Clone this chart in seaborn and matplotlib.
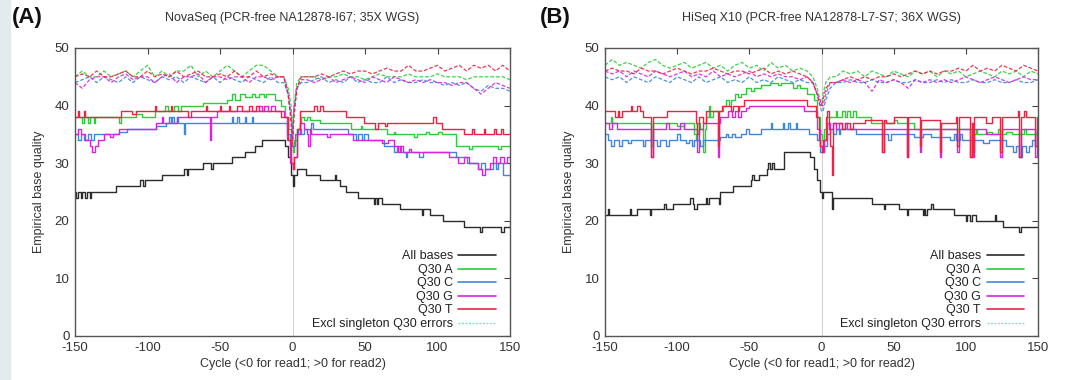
import matplotlib
matplotlib.use("Agg")
import matplotlib.pyplot as plt
from matplotlib.lines import Line2D
from matplotlib.patches import Rectangle
import seaborn as sns

# ---- panel titles / labels -------------------------------------------------
PANEL_TAGS = ["(A)", "(B)"]
PANEL_TITLES = ["NovaSeq (PCR-free NA12878-I67; 35X WGS)",
                "HiSeq X10 (PCR-free NA12878-L7-S7; 36X WGS)"]
X_LABEL = "Cycle (<0 for read1; >0 for read2)"
Y_LABEL = "Empirical base quality"
X_TICKS = [-150, -100, -50, 0, 50, 100, 150]
Y_TICKS = [0, 10, 20, 30, 40, 50]
LEGEND_LABELS = ["All bases", "Q30 A", "Q30 C", "Q30 G", "Q30 T", "Excl singleton Q30 errors"]

# ---- panel A solid series: (cycle, quality) step breakpoints ---------------
BLACK_A = [(-150, 25), (-149, 24), (-148, 25), (-146, 24), (-145, 25), (-143, 24), (-142, 25), (-140, 24),
           (-139, 25), (-122, 26), (-105, 27), (-103, 26), (-102, 27), (-90, 28), (-75, 29), (-73, 28),
           (-72, 29), (-62, 30), (-56, 29), (-55, 30), (-42, 31), (-33, 32), (-26, 33), (-21, 34), (-5, 33),
           (-3, 31), (-1, 28), (0, 26), (1, 28), (3, 29), (9, 28), (19, 27), (29, 28), (30, 27), (33, 26),
           (37, 25), (45, 24), (56, 23), (57, 24), (58, 23), (59, 24), (62, 23), (74, 22), (89, 21), (90, 22),
           (95, 21), (104, 20), (118, 19), (129, 18), (131, 19), (144, 18), (146, 19), (150, 19)]
GREEN_A = [(-150, 38), (-145, 37), (-144, 38), (-141, 37), (-140, 38), (-137, 37), (-136, 38), (-120, 37),
           (-118, 38), (-108, 38.5), (-104, 38), (-95, 39), (-88, 40), (-86, 39), (-82, 40), (-79, 39),
           (-77, 40), (-62, 40.5), (-45, 41), (-42, 42), (-40, 41), (-36, 42), (-33, 41.5), (-28, 42),
           (-26, 41.5), (-23, 42), (-20, 41.5), (-18, 42), (-12, 41), (-8, 40), (-5, 38), (-3, 36), (-1, 33),
           (0, 32), (1, 34), (3, 36), (5, 37), (6, 38), (8, 37.5), (10, 38), (12, 37.5), (19, 37), (40, 36),
           (47, 36.5), (48, 36), (65, 35), (70, 35.5), (71, 35), (84, 34.5), (86, 35), (92, 35.5), (94, 35),
           (100, 35.5), (103, 35), (113, 33), (122, 32.5), (124, 33), (142, 32.5), (144, 33), (150, 33)]
BLUE_A = [(-150, 35), (-148, 34), (-146, 35), (-144, 34), (-141, 35), (-139, 34), (-137, 35), (-120, 35.5),
          (-114, 36), (-94, 36.5), (-87, 37), (-85, 38), (-84, 37), (-83, 38), (-82, 37), (-80, 38), (-79, 37),
          (-75, 35), (-74, 37), (-42, 38), (-41, 37), (-38, 38), (-37, 37), (-33, 38), (-32, 37), (-28, 38),
          (-27, 37), (-6, 37), (-4, 35), (-2, 33), (0, 33), (2, 35), (4, 36), (6, 35), (8, 36), (13, 37),
          (14, 36), (36, 36), (38, 35), (44, 34), (45, 35), (48, 34), (49, 35), (52, 34), (63, 33), (70, 32),
          (72, 33), (75, 32), (78, 31), (79, 32), (87, 31), (90, 32), (113, 31), (120, 30), (128, 29),
          (130, 30), (133, 29), (138, 30), (140, 29), (142, 30), (145, 28), (150, 28)]
MAGENTA_A = [(-150, 35), (-148, 36), (-146, 35), (-143, 34), (-140, 33), (-138, 32), (-136, 33), (-134, 34),
             (-130, 35), (-126, 34.5), (-124, 35), (-120, 36), (-94, 37), (-90, 38), (-89, 37), (-80, 38),
             (-57, 34), (-56, 38), (-52, 39), (-23, 40), (-21, 39), (-20, 40), (-17, 39), (-15, 40), (-12, 39),
             (-6, 38), (-4, 34), (-2, 30), (0, 29), (1, 31), (3, 35), (5, 37), (8, 36), (10, 35), (11, 33),
             (12, 36), (13, 35), (24, 34.5), (26, 35), (42, 34), (62, 33.5), (66, 34), (70, 33), (73, 32),
             (74, 33), (76, 32), (80, 32.5), (82, 32), (108, 31), (114, 30), (118, 31), (122, 30), (128, 29),
             (131, 28), (133, 29), (136, 30), (138, 31), (140, 30), (143, 31), (146, 30), (148, 31), (150, 31)]
RED_A = [(-150, 38), (-148, 39), (-147, 38), (-144, 39), (-143, 38), (-118, 39), (-111, 38.5), (-108, 39),
         (-95, 40), (-94, 39), (-84, 40), (-83, 39), (-72, 38), (-70, 39), (-60, 40), (-59, 39), (-50, 40),
         (-49, 39), (-44, 40), (-43, 39), (-38, 40), (-35, 39), (-30, 40), (-28, 39), (-25, 40), (-23, 39),
         (-8, 38), (-3, 34), (-1, 30), (0, 29), (1, 31), (3, 36), (5, 39), (15, 40), (17, 39), (19, 40),
         (21, 39), (37, 38), (49, 37), (57, 36), (59, 37), (64, 36.5), (65, 37), (97, 38), (99, 37), (103, 36),
         (118, 35), (124, 36), (125, 35), (132, 36), (133, 35), (139, 36), (140, 35), (144, 36), (145, 35),
         (150, 35)]

# ---- panel B solid series --------------------------------------------------
BLACK_B = [(-150, 21), (-148, 22), (-147, 21), (-133, 22), (-132, 21), (-128, 22), (-119, 21), (-118, 22),
           (-109, 23), (-108, 22), (-103, 23), (-91, 24), (-89, 23), (-88, 22), (-86, 23), (-80, 24), (-79, 23),
           (-78, 24), (-71, 23), (-70, 25), (-61, 26), (-49, 27), (-48, 28), (-47, 27), (-43, 28), (-38, 29),
           (-37, 30), (-36, 29), (-34, 30), (-33, 29), (-26, 32), (-8, 31), (-5, 29), (-3, 27), (-1, 25),
           (0, 24), (1, 25), (7, 22), (8, 24), (35, 23), (43, 22), (44, 23), (54, 22), (59, 21), (60, 22),
           (70, 21), (71, 22), (72, 21), (73, 22), (76, 23), (77, 22), (92, 21), (100, 20), (101, 21),
           (103, 20), (104, 21), (107, 20), (120, 21), (121, 20), (126, 19), (137, 18), (138, 19), (150, 19)]
GREEN_B = [(-150, 37), (-146, 38), (-145, 37), (-118, 33), (-117, 37), (-100, 36.5), (-95, 37), (-88, 35),
           (-87, 34), (-86, 37), (-84, 36), (-82, 32), (-81, 36), (-80, 38), (-78, 40), (-77, 38), (-75, 39),
           (-68, 40), (-66, 41), (-64, 40), (-63, 41), (-60, 42), (-58, 41.5), (-56, 42), (-52, 43),
           (-49, 42.5), (-47, 43), (-42, 43.5), (-36, 44), (-30, 43.5), (-28, 44), (-20, 43), (-17, 43.5),
           (-15, 43), (-10, 42), (-5, 41), (-3, 38), (-1, 35), (0, 34), (2, 36), (4, 38), (10, 39), (11, 38),
           (14, 39), (16, 38), (18, 39), (20, 38), (22, 39), (24, 38), (34, 37), (50, 37.5), (52, 37), (64, 36),
           (105, 35), (107, 36), (108, 35), (115, 35.5), (118, 35), (122, 36), (124, 35), (128, 35.5),
           (132, 35), (140, 36), (142, 35), (150, 35)]
BLUE_B = [(-150, 35), (-148, 34), (-146, 33), (-144, 34), (-140, 33), (-138, 34), (-134, 33.5), (-132, 34),
          (-124, 33), (-122, 34), (-114, 33), (-112, 34), (-108, 33), (-106, 34), (-100, 35), (-98, 34),
          (-94, 33.5), (-92, 34), (-90, 33), (-88, 34), (-84, 33), (-82, 34), (-70, 34.5), (-66, 35),
          (-65, 34.5), (-62, 35), (-60, 34.5), (-56, 35), (-52, 36), (-50, 35), (-42, 36), (-35, 37), (-34, 36),
          (-27, 37), (-26, 36), (-23, 37), (-22, 36), (-18, 37), (-17, 36), (-9, 35), (-3, 34), (-1, 32),
          (2, 33), (4, 35), (6, 36), (8, 35), (10, 36), (12, 35), (13, 36), (24, 35), (46, 34), (48, 35),
          (64, 34.5), (70, 35), (76, 34.5), (89, 34), (92, 35), (93, 34), (96, 35), (97, 34), (112, 33.5),
          (116, 34), (128, 33), (133, 32), (135, 33), (137, 31), (139, 33), (142, 32), (144, 33), (146, 34),
          (148, 33), (150, 33)]
MAGENTA_B = [(-150, 37), (-147, 36), (-145, 37), (-142, 36), (-118, 31), (-117, 36), (-108, 37), (-106, 36),
             (-98, 37), (-95, 36), (-86, 32), (-85, 36), (-82, 37), (-72, 31), (-71, 37), (-70, 38), (-65, 39),
             (-62, 38), (-60, 39), (-58, 38), (-56, 39), (-52, 39.5), (-50, 40), (-12, 39), (-3, 36), (-1, 33),
             (0, 32), (2, 34), (4, 37), (6, 36), (8, 37), (10, 36), (12, 37), (14, 36), (16, 37), (18, 36),
             (42, 32), (43, 36), (59, 31), (60, 36), (68, 32), (69, 36), (82, 31), (83, 36), (94, 32), (95, 36),
             (103, 31), (104, 36), (105, 31), (106, 36), (114, 35), (124, 31), (125, 36), (137, 31), (138, 36),
             (148, 31), (149, 36), (150, 36)]
RED_B = [(-150, 39), (-143, 38), (-141, 39), (-140, 38), (-138, 39), (-132, 40), (-131, 39), (-128, 40),
         (-126, 39), (-124, 38), (-118, 31), (-117, 38), (-107, 39), (-87, 37), (-86, 35), (-85, 38), (-82, 37),
         (-80, 39), (-72, 33), (-71, 39), (-69, 40), (-63, 39), (-61, 40), (-58, 39), (-57, 40), (-54, 41),
         (-10, 40), (-4, 38), (-2, 34), (-1, 33), (0, 32), (1, 34), (3, 38), (4, 39), (5, 36), (6, 33),
         (7, 28), (8, 37), (14, 36), (16, 37), (20, 36), (22, 37), (30, 37.5), (42, 32), (43, 37.5), (45, 37),
         (50, 38), (59, 31), (60, 38), (68, 33), (69, 37.5), (82, 32), (83, 37), (93, 38), (94, 33), (95, 38),
         (103, 31), (104, 37), (105, 32), (106, 38), (114, 37), (118, 38), (124, 32), (125, 38), (136, 39),
         (137, 31), (138, 38), (140, 39), (142, 38), (148, 33), (149, 38), (150, 38)]

# ---- "excl singleton" dashed series, sampled on the cycle grid below -------
DASH_X = list(range(-150, -9, 5)) + [-6, -3, -1, 0, 1, 3, 6] + list(range(10, 151, 5))

DASH_GREEN_A = ([45, 46, 45, 45, 46, 45, 45.5, 46, 45, 46, 47, 45, 46, 45, 46, 46, 47, 45, 46, 45, 46, 47, 46, 45,
                 46, 47, 47, 46, 45] + [45, 43, 40, 36, 40, 44, 45] +
                [45, 45, 44.5, 45, 45, 45.5, 45, 45, 44.5, 45, 45.5, 45, 45, 45, 45.5, 45, 45, 45, 45.5, 45, 45,
                 45, 44.5, 45, 45, 45, 45, 45, 44.5])
DASH_BLUE_A = ([44, 44.5, 45, 44, 45, 44.5, 44, 45, 44, 45, 44.5, 44, 45, 44.5, 45, 44, 45, 44.5, 44, 45, 44, 45,
                44.5, 44, 45, 44.5, 44, 45, 44] + [44, 42, 38, 35, 39, 43, 44] +
               [44, 44.5, 45, 44, 44.5, 44, 45, 44, 44.5, 44, 44, 45, 44, 44.5, 44, 44, 44.5, 44, 44, 43.5, 44,
                43.5, 44, 43, 42.5, 43.5, 43, 43, 42.5])
DASH_MAGENTA_A = ([44, 43, 44.5, 45, 45, 44, 45, 45.5, 44.5, 45, 45, 44, 45, 45.5, 44, 45, 45, 45.5, 44, 45, 45,
                   44.5, 45, 45, 44, 45, 45, 44.5, 45] + [45, 42, 38, 34, 39, 43, 44.5] +
                  [44.5, 44, 44.5, 45, 44, 44.5, 45, 44.5, 44, 45, 44.5, 44, 45, 44.5, 44, 44.5, 44, 44.5, 44, 44,
                   43.5, 44, 44, 43, 42, 43, 44, 43.5, 43])
DASH_RED_A = ([45, 45.5, 45, 46, 45, 45, 45.5, 46, 45, 45, 46, 45, 45.5, 45, 46, 45, 45.5, 46, 45, 45, 45.5, 45,
               46, 45, 45, 46, 45, 45.5, 45] + [45, 42, 37, 33, 38, 43, 45] +
              [45, 45, 45.5, 45, 45.5, 46, 45.5, 46, 46, 45.5, 46, 46.5, 46, 46, 47, 46, 46, 46.5, 47, 46, 46.5,
               47, 46, 47, 46.5, 47, 46, 47, 46])

DASH_GREEN_B = ([47, 48, 47, 47.5, 47, 46.5, 47.5, 48, 47, 46.5, 47, 47.5, 46.5, 47, 47.5, 46.5, 47, 46, 47,
                 47.5, 46.5, 47, 46, 47.5, 46.5, 47, 46, 46.5, 46] + [45, 43, 41, 40, 42, 44, 45] +
                [45, 46, 45.5, 46, 45, 46, 45.5, 45, 46, 45.5, 45, 46, 45.5, 46, 45, 46, 45.5, 46, 45, 45.5, 46,
                 45.5, 45, 46, 45.5, 46, 45, 46, 45.5])
DASH_BLUE_B = ([45, 44.5, 45, 44, 45, 44.5, 44, 45, 44.5, 44, 45, 44.5, 44, 45, 44, 44.5, 45, 44, 44.5, 44, 45,
                44, 44.5, 44, 45, 44.5, 44, 44.5, 44] + [44, 42, 40, 39, 39, 41, 43] +
               [44, 44, 44.5, 44, 44, 44.5, 44, 44, 44.5, 44, 44, 44.5, 44, 44, 44.5, 44, 44.5, 44, 44, 44.5, 44,
                44, 44.5, 44, 44, 44.5, 44, 44, 44.5])
DASH_MAGENTA_B = ([46, 45.5, 46, 45, 46, 45.5, 45, 46, 45.5, 45, 45.5, 46, 45, 45.5, 45, 46, 45, 45.5, 45, 45.5,
                   46, 45, 45.5, 45, 45.5, 45, 45, 44.5, 45] + [44, 42, 41, 40, 40, 42, 44] +
                  [44, 44.5, 44, 44.5, 44, 42.5, 44.5, 44, 44.5, 44, 43, 44.5, 44, 44.5, 44, 44.5, 44, 44.5, 45,
                   44.5, 44, 44.5, 45, 44.5, 44, 44.5, 45, 44.5, 44.5])
DASH_RED_B = ([46, 46.5, 46, 46, 45.5, 46.5, 46, 46, 45.5, 46, 46.5, 46, 45.5, 46, 46, 46.5, 46, 45.5, 46, 46,
               45.5, 46, 46.5, 45.5, 46, 45.5, 46, 45.5, 45] + [44, 42, 40, 40, 41, 43, 44] +
              [44, 44.5, 45, 44.5, 45, 44.5, 45, 45, 45.5, 45, 45.5, 46, 45.5, 46, 45.5, 46, 46, 46.5, 46, 47, 46,
               46.5, 46, 47, 46.5, 46, 47, 46.5, 46])

COL_BLACK = "#2b2b2b"
COL_GREEN = "#2ccc3a"
COL_BLUE = "#3f86dc"
COL_MAGENTA = "#dd22dd"
COL_RED = "#ee2244"
COL_EXCL = "#7fe3cc"


def step_line(ax, pts, color, lw=1.0):
    xs = [p[0] for p in pts]
    ys = [p[1] for p in pts]
    sns.lineplot(x=xs, y=ys, ax=ax, color=color, lw=lw, drawstyle="steps-post",
                 estimator=None, sort=False)


def dash_line(ax, ys, color):
    sns.lineplot(x=DASH_X, y=ys, ax=ax, color=color, lw=0.9, linestyle=(0, (3, 1.5)),
                 estimator=None, sort=False, alpha=0.9)


def draw_panel(ax, solids, dashes):
    ax.axvline(0, color="#d0d0d0", lw=0.7, zorder=0)
    colors = [COL_BLACK, COL_GREEN, COL_BLUE, COL_MAGENTA, COL_RED]
    for pts, c in zip(solids, colors):
        step_line(ax, pts, c)
    for ys, c in zip(dashes, [COL_GREEN, COL_BLUE, COL_MAGENTA, COL_RED]):
        dash_line(ax, ys, c)

    ax.set_xlim(-150, 150)
    ax.set_ylim(0, 50)
    ax.set_xticks(X_TICKS)
    ax.set_yticks(Y_TICKS)
    ax.tick_params(direction="in", length=4, width=0.8, top=True, right=True,
                   labelsize=9.5, colors="#444444", labelcolor="#333333", pad=4)
    for s in ax.spines.values():
        s.set_color("#555555")
        s.set_linewidth(1.0)
    ax.set_xlabel(X_LABEL, fontsize=9, color="#333333", labelpad=3)
    ax.set_ylabel(Y_LABEL, fontsize=9, color="#333333", labelpad=7)

    handles = [Line2D([], [], color=c, lw=1.2) for c in colors]
    handles.append(Line2D([], [], color=COL_EXCL, lw=1.0, linestyle=(0, (1.5, 1))))
    leg = ax.legend(handles, LEGEND_LABELS, loc="lower right", bbox_to_anchor=(0.985, -0.005),
                    frameon=False, markerfirst=False, fontsize=9, labelspacing=0.12,
                    handlelength=3.0, handletextpad=0.45, borderaxespad=0.2)
    for t in leg.get_texts():
        t.set_color("#222222")


sns.set_style("white")
plt.rcParams["font.family"] = ["Liberation Sans", "DejaVu Sans"]
plt.rcParams["axes.unicode_minus"] = False

fig = plt.figure(figsize=(10.82, 3.80), dpi=100)
fig.patches.append(Rectangle((0, 0), 10 / 1082, 1, transform=fig.transFigure,
                             color="#e2ebee", zorder=0))

ax_a = fig.add_axes([75 / 1082, 1 - 336 / 380, 435 / 1082, 288 / 380])
ax_b = fig.add_axes([605 / 1082, 1 - 336 / 380, 433 / 1082, 288 / 380])

draw_panel(ax_a, [BLACK_A, GREEN_A, BLUE_A, MAGENTA_A, RED_A],
           [DASH_GREEN_A, DASH_BLUE_A, DASH_MAGENTA_A, DASH_RED_A])
draw_panel(ax_b, [BLACK_B, GREEN_B, BLUE_B, MAGENTA_B, RED_B],
           [DASH_GREEN_B, DASH_BLUE_B, DASH_MAGENTA_B, DASH_RED_B])

for ax, tag, title, tx in zip([ax_a, ax_b], PANEL_TAGS, PANEL_TITLES, [12, 540]):
    pos = ax.get_position()
    fig.text((pos.x0 + pos.x1) / 2, 1 - 18 / 380, title, ha="center", va="center",
             fontsize=9, color="#333333")
    fig.text(tx / 1082, 1 - 17 / 380, tag, ha="left", va="center", fontsize=16,
             fontweight="bold", color="#111111")

fig.savefig("out.png", dpi=100)
